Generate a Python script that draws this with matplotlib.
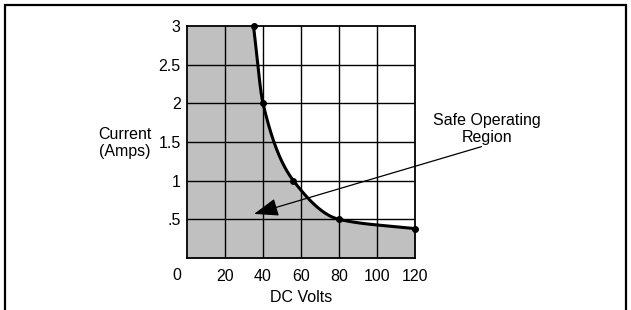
import numpy as np
import matplotlib
matplotlib.use("Agg")
import matplotlib.pyplot as plt
from matplotlib.patches import Rectangle, FancyArrowPatch

plt.rcParams['font.family'] = ['Liberation Sans', 'DejaVu Sans']
plt.rcParams['font.size'] = 11.5

# data
volts = [35, 40, 56, 80, 120]
amps = [3.0, 2.0, 1.0, 0.5, 0.38]
x_ticks = [20, 40, 60, 80, 100, 120]
x_labels = ['20', '40', '60', '80', '100', '120']
y_ticks = [0.5, 1.0, 1.5, 2.0, 2.5, 3.0]
y_labels = ['.5', '1', '1.5', '2', '2.5', '3']


def smooth(x, y, n=300):
    # monotone cubic hermite, only for drawing a smooth line through the points
    x = np.asarray(x, float)
    y = np.asarray(y, float)
    h = np.diff(x)
    d = np.diff(y) / h
    m = np.zeros_like(y)
    m[0], m[-1] = d[0], d[-1]
    for i in range(1, len(x) - 1):
        if d[i - 1] * d[i] > 0:
            w1 = 2 * h[i] + h[i - 1]
            w2 = h[i] + 2 * h[i - 1]
            m[i] = (w1 + w2) / (w1 / d[i - 1] + w2 / d[i])
    xs = np.linspace(x[0], x[-1], n)
    k = np.clip(np.searchsorted(x, xs) - 1, 0, len(x) - 2)
    t = (xs - x[k]) / h[k]
    h00 = 2 * t**3 - 3 * t**2 + 1
    h10 = t**3 - 2 * t**2 + t
    h01 = -2 * t**3 + 3 * t**2
    h11 = t**3 - t**2
    ys = h00 * y[k] + h10 * h[k] * m[k] + h01 * y[k + 1] + h11 * h[k] * m[k + 1]
    return xs, ys


fig = plt.figure(figsize=(6.31, 3.10), dpi=100)
ax = fig.add_axes([187 / 631, 52 / 310, 228 / 631, 232 / 310])

xs, ys = smooth(volts, amps)
fx = np.concatenate([[0], xs])
fy = np.concatenate([[amps[0]], ys])
ax.fill_between(fx, 0, fy, color='#c0c0c0', lw=0, zorder=1)

for xv in x_ticks[:-1]:
    ax.axvline(xv, color='black', lw=1, zorder=2)
for yv in y_ticks[:-1]:
    ax.axhline(yv, color='black', lw=1, zorder=2)

ax.plot(xs, ys, color='black', lw=2.2, zorder=4, clip_on=False)
ax.plot(volts, amps, 'o', color='black', ms=4, zorder=5, clip_on=False)

ax.set_xlim(0, 120)
ax.set_ylim(0, 3)
ax.set_xticks(x_ticks)
ax.set_xticklabels(x_labels)
ax.set_yticks(y_ticks)
ax.set_yticklabels(y_labels)
ax.tick_params(length=0)
ax.tick_params(axis='x', pad=8)
ax.tick_params(axis='y', pad=4.5)
for s in ax.spines.values():
    s.set_linewidth(1.3)

ax.text(-5.3, -0.22, '0', ha='center', va='center')
ax.text(60, -0.517, 'DC Volts', ha='center', va='center')
ax.text(-32.6, 1.49, 'Current\n(Amps)', ha='center', va='center', linespacing=1.2)

ax.text(157.9, 1.67, 'Safe Operating\nRegion', ha='center', va='center',
        linespacing=1.15)
arrow = FancyArrowPatch((155, 1.44), (35.3, 0.57),
                        arrowstyle='-|>,head_length=1.5,head_width=0.55',
                        mutation_scale=10, color='black', lw=0.9,
                        shrinkA=0, shrinkB=0, clip_on=False, zorder=6)
ax.add_patch(arrow)

fig.patches.append(Rectangle((5 / 631, -0.1), 621 / 631, 1.1 - 5 / 310,
                             transform=fig.transFigure, fill=False,
                             ec='black', lw=1.6))

fig.savefig('out.png', dpi=100)
